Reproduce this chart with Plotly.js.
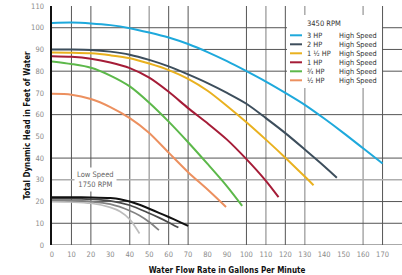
<!DOCTYPE html>
<html><head><meta charset="utf-8">
<script src="https://cdn.plot.ly/plotly-3.0.1.min.js"></script>
<style>html,body{margin:0;padding:0;background:#fff;}#chart{width:402px;height:275px;}</style>
</head><body><div id="chart"></div>
<script>
// ---- data (GPM, feet of head) ----
const flow3HP = [0,10,20,30,40,50,60,70,80,90,100,110,120,130,140,150,160,170];
const head3HP = [102.2,102.4,102,101.2,99.8,97.8,95.5,92.5,88.8,84.6,80,75.2,70,64.5,58.2,51.5,44.5,37.5];
const flow2HP = [0,10,20,30,40,50,60,70,80,90,100,110,120,130,140,146.5];
const head2HP = [90,90,89.8,89,87.6,85.2,82.2,78.5,74.5,70,65,58.4,51.5,44,36.3,31];
const flow15HP = [0,10,20,30,40,50,60,70,80,90,100,110,120,130,134.5];
const head15HP = [88.6,88.5,88.2,87.3,86,83.5,80.5,76.5,71,64,56.5,48.5,40.2,31.5,27.5];
const flow1HP = [0,10,20,30,40,50,60,70,80,90,100,110,116.5];
const head1HP = [86.9,86.6,85.7,84,81.4,77,70.5,63,56,48.5,39.5,29.5,22];
const flow34HP = [0,10,20,30,40,50,60,70,80,90,97.8];
const head34HP = [84.5,83.3,81.6,78,73,65.5,56.8,47.3,37.3,27,18];
const flow12HP = [0,10,20,30,40,50,60,70,80,89.5];
const head12HP = [69.6,69.2,67.2,63.5,58.4,51.6,42.5,33.5,25.5,17.5];

// low speed (1750 RPM)
const flowLowA = [0,10,20,30,35,40,45,50,55,60,65,70];
const headLowA = [22,22,21.9,21.6,21.1,20,18.5,16.7,14.8,12.9,10.9,8.8];
const flowLowB = [0,10,20,30,40,50,55,60,65];
const headLowB = [21.3,21.3,21,20.3,18.3,14.6,12.6,10.4,8];
const flowLowC = [0,10,20,30,40,45,50,55];
const headLowC = [20.6,20.5,20,18.8,15.8,13.6,10.6,6.8];
const flowLowD = [0,10,20,30,35,40,45];
const headLowD = [20,19.8,19.2,17.3,15.4,11.8,5.3];

const hpLabels = ['3 HP','2 HP','1 \u00BD HP','1 HP','\u00BE HP','\u00BD HP'];
const speedLabel = 'High Speed';
const legendTitle = '3450 RPM';
const lowSpeedLabel = 'Low Speed<br>1750 RPM';
const xTicks = [0,10,20,30,40,50,60,70,80,90,100,110,120,130,140,150,160,170,180];
const yTicks = [0,10,20,30,40,50,60,70,80,90,100,110];
const gridXDark = [10,20,40,60,70,100,120,170];
const gridXLight = [50,110,130,160];
const gridYDark = [0,10,20,40,60,80,90,100];
const gridYLight = [30];

const highColors = ['#1ea9dc','#3d4e5c','#e9b11f','#a51c37','#5cb84a','#ec905f'];
const lowColors = ['#111111','#4a4a4a','#828282','#bdbdbd'];

const highFlows = [flow3HP,flow2HP,flow15HP,flow1HP,flow34HP,flow12HP];
const highHeads = [head3HP,head2HP,head15HP,head1HP,head34HP,head12HP];
const lowFlows = [flowLowA,flowLowB,flowLowC,flowLowD];
const lowHeads = [headLowA,headLowB,headLowC,headLowD];

const traces = [];
for (let i = lowFlows.length-1; i >= 0; i--) {
  traces.push({x: lowFlows[i], y: lowHeads[i], mode:'lines', showlegend:false, hoverinfo:'skip',
    line:{color: lowColors[i], width: i===0 ? 2 : 1.7, shape:'spline', smoothing:0.8}});
}
for (let i = highFlows.length-1; i >= 0; i--) {
  traces.push({x: highFlows[i], y: highHeads[i], mode:'lines', name: hpLabels[i], showlegend:false,
    line:{color: highColors[i], width: 2, shape:'spline', smoothing:0.8}});
}

// geometry helpers (pixel -> paper)
const L = 52, T = 6, W = 350, H = 239;
const px = v => (v - L) / W;
const py = v => (T + H - v) / H;

const NARROW = 'Liberation Sans Narrow, DejaVu Sans Condensed, Arial Narrow, sans-serif';
const shapes = [];
gridXDark.forEach(v => shapes.push({type:'line', xref:'x', yref:'paper', x0:v, x1:v, y0:0, y1:1, layer:'below', line:{color:'#555', width:1}}));
gridXLight.forEach(v => shapes.push({type:'line', xref:'x', yref:'paper', x0:v, x1:v, y0:0, y1:1, layer:'below', line:{color:'#aeaeae', width:1.6}}));
gridYDark.forEach(v => shapes.push({type:'line', xref:'paper', yref:'y', x0:0, x1:1, y0:v, y1:v, layer:'below', line:{color:'#555', width:1}}));
gridYLight.forEach(v => shapes.push({type:'line', xref:'paper', yref:'y', x0:0, x1:1, y0:v, y1:v, layer:'below', line:{color:'#aeaeae', width:1.6}}));
shapes.push({type:'rect', xref:'paper', yref:'paper', x0:px(287), x1:px(382), y0:py(88), y1:py(15), layer:'above', fillcolor:'#fff', line:{width:0}});

const annotations = [];
annotations.push({xref:'paper', yref:'paper', x:px(304.5), y:py(23), xanchor:'left', yanchor:'middle', showarrow:false,
  text: legendTitle, font:{family:NARROW, size:7.5, color:'#333'}});
hpLabels.forEach((lab, i) => {
  const yy = 35.3 + i*9;
  shapes.push({type:'line', xref:'paper', yref:'paper', x0:px(290), x1:px(302), y0:py(yy), y1:py(yy), layer:'above', line:{color:highColors[i], width:2}});
  annotations.push({xref:'paper', yref:'paper', x:px(304.5), y:py(yy), xanchor:'left', yanchor:'middle', showarrow:false,
    text: lab, font:{family:NARROW, size:7.3, color:'#333'}});
  annotations.push({xref:'paper', yref:'paper', x:px(336.5), y:py(yy), xanchor:'left', yanchor:'middle', showarrow:false,
    text: speedLabel, font:{family:NARROW, size:7.3, color:'#333'}});
});
annotations.push({xref:'x', yref:'y', x:22.5, y:30, showarrow:false, text: lowSpeedLabel, align:'center',
  bgcolor:'#fff', borderpad:2, font:{family:NARROW, size:7.5, color:'#666'}});

const layout = {
  width:402, height:275,
  margin:{l:L, r:402-L-W, t:T, b:275-T-H, pad:0},
  paper_bgcolor:'#fff', plot_bgcolor:'#fff',
  showlegend:false,
  xaxis:{range:[0,180], tickvals:xTicks, ticktext:xTicks.map(String), showgrid:false, zeroline:false, showline:false,
    ticks:'', ticklabelstandoff:3, tickfont:{family:NARROW, size:7.5, color:'#8a8a8a'},
    title:{text:'Water Flow Rate in Gallons Per Minute', standoff:10, font:{family:NARROW, size:8, color:'#111', weight:700}}},
  yaxis:{range:[0,110], tickvals:yTicks, ticktext:yTicks.map(String), showgrid:false, zeroline:false,
    showline:true, linecolor:'#111', linewidth:2.5,
    ticks:'', ticklabelstandoff:4, tickfont:{family:NARROW, size:7.5, color:'#8a8a8a'},
    title:{text:'Total Dynamic Head in Feet of Water', standoff:0, font:{family:NARROW, size:8, color:'#111', weight:700}}},
  shapes: shapes,
  annotations: annotations
};
Plotly.newPlot('chart', traces, layout, {staticPlot:true, displayModeBar:false});
</script>
</body></html>
